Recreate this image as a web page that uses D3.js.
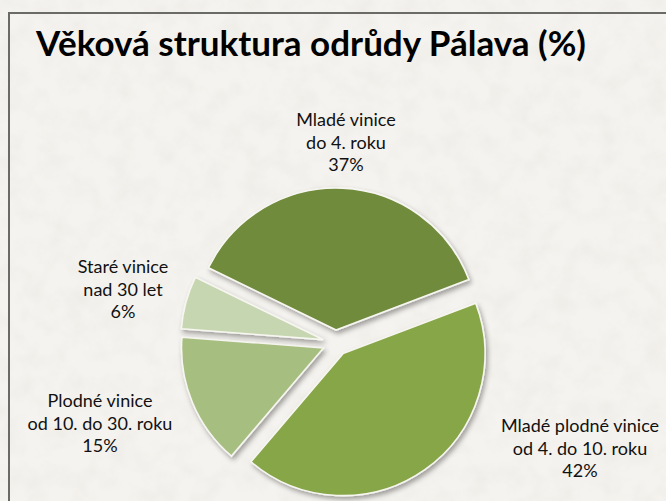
<!DOCTYPE html>
<html><head><meta charset="utf-8">
<script src="https://cdn.jsdelivr.net/npm/d3@7"></script>
<style>html,body{margin:0;padding:0;background:#f4f2ee;} svg{display:block}</style>
</head><body><svg id="c" width="666" height="501"></svg>
<script>
// ---- data ----
const title = "Věková struktura odrůdy Pálava (%)";
const categories = ["Mladé vinice do 4. roku", "Mladé plodné vinice od 4. do 10. roku", "Plodné vinice od 10. do 30. roku", "Staré vinice nad 30 let"];
const labelLines = [["Mladé vinice", "do 4. roku"], ["Mladé plodné vinice", "od 4. do 10. roku"], ["Plodné vinice", "od 10. do 30. roku"], ["Staré vinice", "nad 30 let"]];
const values = [37, 42, 15, 6];
const colors = ["#6f8b3b", "#87a647", "#a6bf80", "#c6d6b0"];

// ---- layout ----
const W = 666, H = 501;
const cx = 335.5, cy = 343, R = 142, explode = 13;
const startDeg = -64;
const labelAnchors = [[346, 126], [580, 432], [100, 407], [123, 273]];
const lineH = 22.5;

const svg = d3.select("#c");
const defs = svg.append("defs");

const paper = defs.append("filter").attr("id", "paper").attr("x", 0).attr("y", 0).attr("width", 1).attr("height", 1);
paper.append("feTurbulence").attr("type", "fractalNoise").attr("baseFrequency", "0.045").attr("numOctaves", 4).attr("seed", 7);
paper.append("feColorMatrix").attr("type", "matrix")
  .attr("values", "0 0 0 0 0.55  0 0 0 0 0.52  0 0 0 0 0.47  0.22 0 0 0 -0.085");

const sh = defs.append("filter").attr("id", "shadow").attr("x", "-20%").attr("y", "-20%").attr("width", "140%").attr("height", "140%");
sh.append("feDropShadow").attr("dx", 2).attr("dy", 3).attr("stdDeviation", 2.5).attr("flood-color", "#000").attr("flood-opacity", 0.35);

svg.append("rect").attr("width", W).attr("height", H).attr("fill", "#f5f3ef");
svg.append("rect").attr("width", W).attr("height", H).attr("filter", "url(#paper)");

// frame
svg.append("rect").attr("x", 9).attr("y", 13).attr("width", W + 20).attr("height", H + 20)
  .attr("fill", "none").attr("stroke", "#6a6a66").attr("stroke-width", 2);

// title
const t = svg.append("text").attr("x", 36).attr("y", 56)
  .attr("font-family", "Lato, 'Open Sans', sans-serif").attr("font-weight", 700)
  .attr("font-size", 26).attr("fill", "#000").text(title);
const tw = t.node().getComputedTextLength();
t.attr("font-size", 26 * 550 / tw);

// pie
const a0 = startDeg * Math.PI / 180;
const pie = d3.pie().sort(null).value(d => d).startAngle(a0).endAngle(a0 + 2 * Math.PI);
const arc = d3.arc().innerRadius(0).outerRadius(R);
const arcs = pie(values);

const g = svg.append("g").attr("transform", `translate(${cx},${cy})`);
g.selectAll("path").data(arcs).join("path")
  .attr("transform", d => {
    const m = (d.startAngle + d.endAngle) / 2;
    return `translate(${explode * Math.sin(m)},${-explode * Math.cos(m)})`;
  })
  .attr("d", arc)
  .attr("fill", (d, i) => colors[i])
  .attr("stroke", "#f7f6f1").attr("stroke-width", 1.6).attr("stroke-linejoin", "miter")
  .attr("filter", "url(#shadow)");

// labels
arcs.forEach((d, i) => {
  const [lx, ly] = labelAnchors[i];
  const txt = svg.append("text").attr("text-anchor", "middle")
    .attr("font-family", "Lato, 'Open Sans', sans-serif").attr("font-size", 18).attr("fill", "#111");
  const lines = labelLines[i].concat([values[i] + "%"]);
  lines.forEach((s, k) => txt.append("tspan").attr("x", lx).attr("y", ly + k * lineH).text(s));
});
</script>
</body></html>
